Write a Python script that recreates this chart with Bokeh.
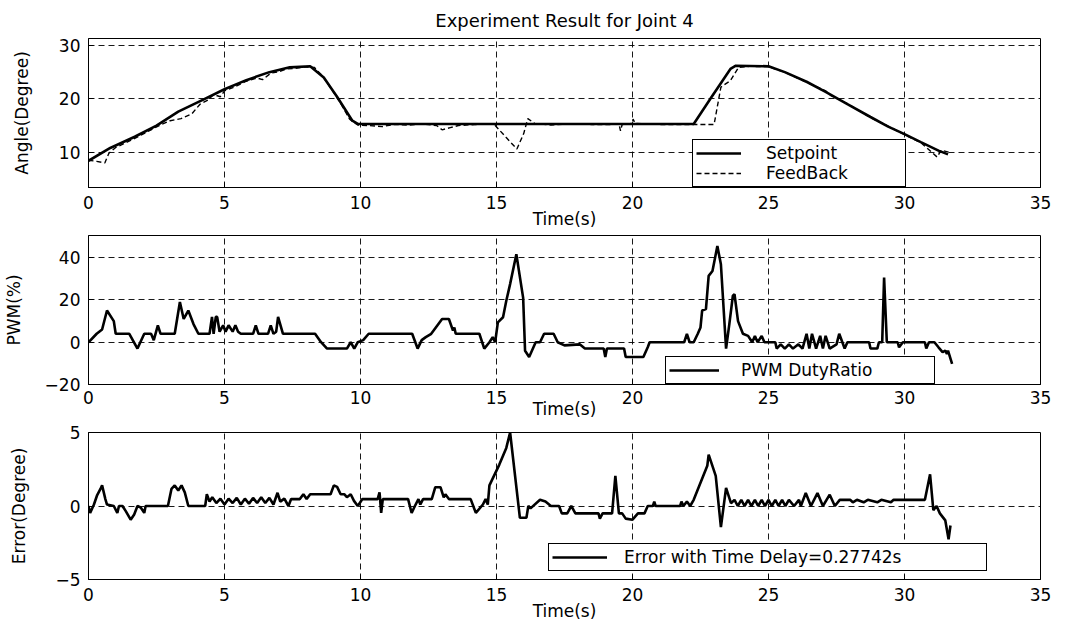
from bokeh.plotting import figure
from bokeh.models import Range1d, Legend, LegendItem, FixedTicker
from bokeh.layouts import column
from bokeh.embed import file_html
from bokeh.resources import INLINE

# ---------------- data ----------------
time_ticks = [0, 5, 10, 15, 20, 25, 30, 35]
angle_ticks = [10, 20, 30]
pwm_ticks = [-20, 0, 20, 40]
err_ticks = [-5, 0, 5]

setpoint_time = [0, 0.8, 1.7, 2.5, 3.3, 4.2, 5.0, 5.8, 6.65, 7.4, 8.15, 8.65, 9.15, 9.7, 9.9,
                 22.25, 22.9, 23.6, 23.8, 25.0, 25.6, 26.4, 27.1, 27.9, 28.75, 29.4, 30.0, 30.6, 31.25, 31.6]
setpoint_angle = [8.4, 10.8, 12.9, 15.0, 17.6, 19.8, 21.8, 23.5, 25.0, 25.9, 26.1, 24.0, 20.3, 15.9, 15.3,
                  15.3, 20.3, 25.6, 26.2, 26.1, 25.0, 23.2, 21.3, 19.0, 16.6, 14.8, 13.4, 11.9, 10.3, 9.6]

feedback_time = [0, 0.3, 0.6, 0.75, 1.0, 1.3, 1.7, 2.0, 2.3, 2.6, 3.0, 3.4, 3.8, 4.1, 4.4, 4.6, 4.85,
                 5.0, 5.4, 5.8, 6.2, 6.4, 6.7, 7.0, 7.3, 7.6, 8.0, 8.3, 8.6, 9.0, 9.3, 9.6, 9.9,
                 10.3, 10.8, 11.2, 11.8, 12.3, 12.8, 13.0, 13.3, 13.6, 14.2, 14.9, 15.35, 15.75, 16.0,
                 16.15, 16.4, 17.0, 17.7, 18.5, 19.2, 19.5, 19.56, 19.62, 20.0, 20.02, 20.1, 21.0,
                 22.0, 23.0, 23.25, 23.6, 23.9, 24.3, 25.0, 25.6, 26.4, 27.1, 27.3, 27.9, 28.75,
                 29.4, 30.0, 30.6, 31.2, 31.35, 31.7]
feedback_angle = [8.5, 8.3, 8.0, 9.8, 10.9, 11.6, 12.6, 13.4, 14.2, 15.0, 15.9, 16.3, 17.2, 19.0, 19.8, 20.8, 20.4,
                  21.5, 22.3, 23.3, 23.9, 23.6, 24.8, 25.1, 25.6, 25.7, 26.0, 25.9, 24.3, 21.3, 18.9, 16.2, 15.1,
                  15.0, 14.8, 15.2, 15.1, 15.3, 15.0, 14.2, 14.6, 15.0, 15.2, 15.3, 12.8, 10.6, 13.5,
                  16.3, 15.4, 15.1, 15.3, 15.2, 15.2, 15.3, 14.0, 15.2, 15.4, 16.2, 15.4, 15.2,
                  15.2, 15.2, 22.2, 23.4, 25.9, 26.1, 26.0, 25.0, 23.1, 21.5, 20.6, 19.1, 16.5,
                  14.9, 13.3, 11.8, 9.1, 10.4, 9.9]

pwm_time = [0, 0.3, 0.5, 0.68, 0.93, 1.0, 1.5, 1.8, 2.05, 2.3,
            2.4, 2.55, 2.65, 3.17, 3.36, 3.5, 3.67, 3.86, 4.04, 4.45,
            4.54, 4.6, 4.68, 4.73, 4.82, 4.95, 5.04, 5.15, 5.3, 5.4,
            5.5, 5.6, 6.05, 6.15, 6.25, 6.6, 6.7, 6.8, 6.9, 6.97,
            7.15, 8.33, 8.55, 8.77, 9.5, 9.64, 9.77, 9.9, 10.1, 10.3,
            11.9, 12.1, 12.25, 12.4, 12.6, 13.0, 13.25, 13.4, 13.45, 13.5,
            14.37, 14.55, 14.74, 14.86, 14.95, 15.05, 15.24, 15.36, 15.5, 15.73,
            15.98, 16.05, 16.2, 16.44, 16.6, 16.75, 16.9, 17.1, 17.25, 17.5,
            18.06, 18.25, 18.94, 19.0, 19.06, 19.69, 19.75, 20.4, 20.56, 20.63,
            21.9, 22.0, 22.1, 22.25, 22.4, 22.5, 22.56, 22.7, 22.8, 22.94,
            23.12, 23.25, 23.44, 23.56, 23.69, 23.75, 23.88, 24.06, 24.25, 24.4,
            24.5, 24.6, 24.75, 24.85, 25.25, 25.3, 25.45, 25.6, 25.75, 25.9,
            26.1, 26.25, 26.4, 26.5, 26.6, 26.75, 26.9, 27.0, 27.1, 27.25,
            27.5, 27.6, 27.8, 27.9, 28.7, 28.75, 29.0, 29.06, 29.18, 29.25,
            29.35, 29.75, 29.8, 29.94, 30.75, 30.8, 30.9, 31.1, 31.25, 31.4,
            31.5, 31.56, 31.6, 31.75]
pwm_duty = [0, 4, 6, 15, 10, 4, 4, -3, 4, 4,
            1, 8, 4, 4, 19, 11, 15, 8.6, 4, 4,
            12, 4, 12, 12, 5, 8, 5, 8, 5, 8,
            5, 4, 4, 8, 4, 4, 8, 4, 5, 12,
            4, 4, 0, -3, -3, 0, -3, 0, 1, 4,
            4, -3, 1, 2.4, 4, 11, 11, 5.5, 7, 4,
            4, -3, 0, 2.4, 0, 9.4, 11.8, 19.6, 27.5, 41.6,
            21, -4, -7, 0, 0, 4, 4, 4, 0, -1.5,
            -1, -3, -3, -7, -3, -3, -7, -7, -2.4, 0,
            0, 4, 0, 0, 4, 7, 15, 15.7, 31.4, 33.7,
            45.5, 36.9, -3, 8.6, 22, 22.7, 10, 4, 3, 0,
            3, 0, 3, 0, 0, -3, -1, -3, -1, -3,
            -1, -3, 4, -3, 4, -3, 3, -3, 3, -3,
            -1, 4, -3, 0, 0, -3, -3, 0, 0, 30.6,
            0, 0, -2.4, 0, 0, -3, 0, 0, -2.4, -4.7,
            -4, -5.5, -4, -10.2]

error_time = [0, 0.06, 0.2, 0.31, 0.44, 0.5, 0.62, 0.68, 0.93, 1.06,
              1.12, 1.25, 1.37, 1.55, 1.68, 1.8, 1.92, 2.05, 2.1, 2.92,
              3.05, 3.17, 3.3, 3.42, 3.54, 3.67, 4.29, 4.35, 4.45, 4.55,
              4.7, 4.85, 5.0, 5.15, 5.3, 5.45, 5.6, 5.75, 5.9, 6.05,
              6.2, 6.35, 6.5, 6.65, 6.8, 6.95, 7.05, 7.2, 7.35, 7.45,
              7.77, 7.9, 8.02, 8.15, 8.9, 9.02, 9.14, 9.27, 9.4, 9.5,
              9.64, 9.76, 9.9, 10.07, 10.63, 10.7, 10.76, 10.82, 11.75, 11.88,
              12.0, 12.13, 12.2, 12.3, 12.62, 12.75, 12.94, 13.06, 13.12, 13.25,
              14.05, 14.24, 14.5, 14.6, 14.68, 14.74, 15.1, 15.36, 15.5, 15.86,
              16.1, 16.17, 16.25, 16.6, 16.8, 17.0, 17.3, 17.4, 17.6, 17.75,
              17.9, 18.75, 18.8, 18.9, 19.25, 19.37, 19.5, 19.62, 19.75, 20.0,
              20.2, 20.44, 20.56, 20.75, 20.8, 20.85, 21.75, 21.8, 21.87, 22.0,
              22.12, 22.25, 22.75, 22.8, 23.06, 23.25, 23.44, 23.62, 23.75, 23.87,
              24.0, 24.12, 24.25, 24.37, 24.5, 24.62, 24.75, 24.87, 25.0, 25.12,
              25.25, 25.37, 25.5, 25.62, 25.75, 25.94, 26.12, 26.19, 26.37, 26.56,
              26.8, 27.0, 27.25, 27.44, 27.62, 28.0, 28.1, 28.25, 28.5, 28.65,
              29.0, 29.15, 29.5, 29.6, 30.75, 30.94, 31.06, 31.18, 31.3, 31.5,
              31.62, 31.69]
error_value = [0, -0.47, 0.1, 0.7, 1.16, 1.4, 0.47, 0.1, 0, -0.47,
               0, 0, -0.35, -0.93, -0.58, 0, -0.1, -0.47, 0, 0,
               1.16, 1.4, 1.05, 1.4, 0.93, 0, 0, 0.8, 0.3, 0.6,
               0.2, 0.5, 0.1, 0.5, 0.2, 0.55, 0.1, 0.5, 0.15, 0.55,
               0.2, 0.6, 0.2, 0.55, 0.1, 0.9, 0.3, 0.5, 0, 0.47,
               0.47, 0.8, 0.47, 0.8, 0.8, 1.4, 1.3, 0.8, 0.8, 0.6,
               0.8, 0.35, 0, 0.47, 0.47, 0.93, -0.47, 0.47, 0.47, -0.47,
               0, 0.47, 0.1, 0.47, 0.47, 1.28, 1.28, 0.58, 0.8, 0.47,
               0.47, -0.47, 0.1, 0.47, 0.1, 1.4, 2.8, 3.95, 5, -0.8,
               -0.8, 0, -0.16, 0.42, 0.3, 0, 0, -0.5, -0.5, 0,
               -0.5, -0.5, -0.86, -0.5, -0.5, 2.05, -0.5, -0.5, -0.86, -0.93,
               -0.5, -0.5, 0, 0, 0.3, 0, 0, 0.3, 0, 0.3,
               0, 0.42, 2.74, 3.5, 2.05, -1.44, 1.23, 0.19, 0.42, 0,
               0.42, 0, 0.42, 0, 0.42, 0, 0.42, 0, 0.42, 0,
               0.42, 0, 0.42, 0, 0.42, 0, 0.42, 0, 0.88, 0,
               0.88, 0, 0.77, 0, 0.42, 0.42, 0.25, 0.42, 0.25, 0.42,
               0.25, 0.42, 0.25, 0.42, 0.42, 2.16, -0.28, 0, -0.5, -0.98,
               -2.26, -1.33]

title_text = "Experiment Result for Joint 4"
x_label = "Time(s)"
y_labels = ["Angle(Degree)", "PWM(%)", "Error(Degree)"]
legend_labels = ["Setpoint", "FeedBack", "PWM DutyRatio", "Error with Time Delay=0.27742s"]

FONT = "DejaVu Sans"
FS = "17px"


def make_fig(y_range, yticks, ylabel, top, frame_h, bottom, ylab_standoff,
             xtick_standoff=8, xlab_standoff=-3, title=None):
    p = figure(frame_width=952, frame_height=frame_h,
               x_range=Range1d(0, 35), y_range=Range1d(*y_range),
               output_backend="svg", toolbar_location=None,
               min_border_left=80, min_border_right=28,
               min_border_top=top, min_border_bottom=bottom, title=title)
    p.background_fill_color = "white"
    p.border_fill_color = "white"
    p.outline_line_color = "black"
    p.outline_line_width = 1
    p.outline_line_alpha = 1

    xt = FixedTicker(ticks=time_ticks)
    yt = FixedTicker(ticks=yticks)
    p.xaxis.ticker = xt
    p.xgrid.ticker = xt
    p.yaxis.ticker = yt
    p.ygrid.ticker = yt

    for ax in (p.xaxis[0], p.yaxis[0]):
        ax.axis_line_color = "black"
        ax.major_tick_line_color = "black"
        ax.major_tick_in = 5
        ax.major_tick_out = 0
        ax.minor_tick_line_color = None
        ax.major_label_text_font = FONT
        ax.major_label_text_font_size = FS
        ax.major_label_text_color = "black"
        ax.axis_label_text_font = FONT
        ax.axis_label_text_font_size = FS
        ax.axis_label_text_font_style = "normal"
        ax.axis_label_text_color = "black"

    p.xaxis.axis_label = x_label
    p.xaxis.major_label_standoff = xtick_standoff
    p.xaxis.axis_label_standoff = xlab_standoff
    p.yaxis.axis_label = ylabel
    p.yaxis.major_label_standoff = 8
    p.yaxis.axis_label_standoff = ylab_standoff

    for g in (p.xgrid[0], p.ygrid[0]):
        g.grid_line_color = "black"
        g.grid_line_dash = "6 4"
        g.grid_line_width = 1
        g.grid_line_alpha = 0.9

    if title is not None:
        p.title.text_font = FONT
        p.title.text_font_size = "18px"
        p.title.text_font_style = "normal"
        p.title.align = "center"
        p.title.text_color = "black"
        p.title.standoff = 15
    return p


def add_legend(p, items, loc, glyph_w, standoff, label_w):
    leg = Legend(items=items, location=loc, orientation="vertical",
                 glyph_width=glyph_w, glyph_height=20, label_standoff=standoff,
                 label_width=label_w, label_height=20, padding=3, spacing=0, margin=0,
                 label_text_font=FONT, label_text_font_size=FS, label_text_color="black",
                 border_line_color="black", border_line_width=1, border_line_alpha=1,
                 background_fill_color="white", background_fill_alpha=1)
    p.add_layout(leg)


# ---- panel 1: angle ----
p1 = make_fig((3.4, 31.3), angle_ticks, y_labels[0], 30, 149, 44, 24, title=title_text)
r_sp = p1.line(setpoint_time, setpoint_angle, line_color="black", line_width=2.6)
r_fb = p1.line(feedback_time, feedback_angle, line_color="black", line_width=1.4, line_dash="5 3")
add_legend(p1, [LegendItem(label=legend_labels[0], renderers=[r_sp]),
                LegendItem(label=legend_labels[1], renderers=[r_fb])],
           (604, 0), 45, 25, 136)

# ---- panel 2: PWM ----
p2 = make_fig((-20, 50.5), pwm_ticks, y_labels[1], 4, 149, 38, 18,
              xtick_standoff=6, xlab_standoff=-8)
r_pwm = p2.line(pwm_time, pwm_duty, line_color="black", line_width=2.6)
add_legend(p2, [LegendItem(label=legend_labels[2], renderers=[r_pwm])],
           (577, 0), 50, 22, 190)

# ---- panel 3: error ----
p3 = make_fig((-5, 5), err_ticks, y_labels[2], 10, 147, 38, 23)
r_err = p3.line(error_time, error_value, line_color="black", line_width=2.6)
add_legend(p3, [LegendItem(label=legend_labels[3], renderers=[r_err])],
           (460, 8), 55, 17, 359)

layout = column(p1, p2, p3, spacing=0)
open("out.html", "w").write(file_html(layout, INLINE))
